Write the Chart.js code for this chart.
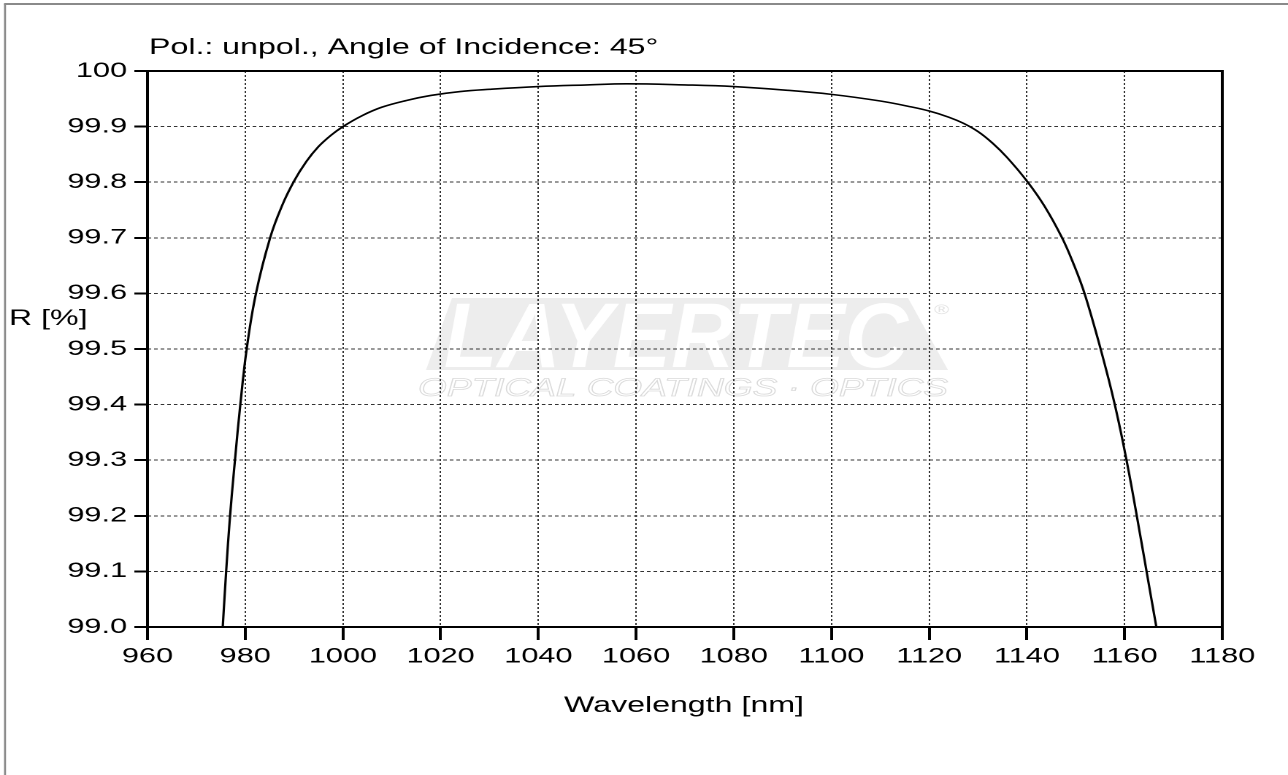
<!DOCTYPE html>
<html>
<head>
<meta charset="utf-8">
<script src="https://cdn.jsdelivr.net/npm/chart.js@4.4.1/dist/chart.umd.min.js"></script>
<style>
  html, body { margin: 0; padding: 0; background: #fff; overflow: hidden; }
  #wrap { width: 1288px; height: 775px; position: relative; }
  #chartR { position: absolute; left: 0; top: 0; transform-origin: 0 0; transform: scaleX(1.4603); }
</style>
</head>
<body>
<div id="wrap"><canvas id="chartR" width="882" height="775"></canvas></div>
<script>
// the original picture is stretched sideways, so the canvas is drawn narrow and widened by css
const stretch = 1288 / 882
const fontFam = '"Liberation Sans", Arial, sans-serif'

const wavelength = [
  975.4, 976.1, 976.9, 977.9, 979.0, 980.3, 982.2, 985.1, 987.5, 990,
  992.5, 995, 997.5, 1000, 1004, 1008, 1013, 1018, 1024, 1030,
  1040, 1050, 1058, 1070, 1080, 1090, 1100, 1110, 1116, 1120,
  1124, 1127, 1130, 1133, 1136, 1140.2, 1143.6, 1147.2, 1149.6, 1151.8,
  1155.1, 1158.0, 1160.4, 1162.5, 1164.5, 1166.5
]
const reflectance = [
  99.0, 99.1, 99.2, 99.3, 99.4, 99.5, 99.6, 99.7, 99.757, 99.802,
  99.837, 99.864, 99.884, 99.9, 99.92, 99.935, 99.947, 99.956, 99.963, 99.967,
  99.972, 99.975, 99.977, 99.975, 99.972, 99.966, 99.958, 99.946, 99.936, 99.928,
  99.917, 99.906, 99.891, 99.87, 99.844, 99.8, 99.757, 99.7, 99.652, 99.6,
  99.5, 99.4, 99.3, 99.2, 99.1, 99.0
]

const xTickValues = [960, 980, 1000, 1020, 1040, 1060, 1080, 1100, 1120, 1140, 1160, 1180]
const xTickLabels = ['960', '980', '1000', '1020', '1040', '1060', '1080', '1100', '1120', '1140', '1160', '1180']
const yTickValues = [99.0, 99.1, 99.2, 99.3, 99.4, 99.5, 99.6, 99.7, 99.8, 99.9, 100]
const yTickLabels = ['99.0', '99.1', '99.2', '99.3', '99.4', '99.5', '99.6', '99.7', '99.8', '99.9', '100']

const titleText = 'Pol.: unpol., Angle of Incidence: 45°'
const yTitle = 'R [%]'
const xTitle = 'Wavelength [nm]'

const points = wavelength.map((w, i) => ({ x: w, y: reflectance[i] }))

const paperPlugin = {
  id: 'paper',
  beforeDraw(chart) {
    const c = chart.ctx
    const sx = v => v / stretch
    c.save()
    // outer grey frame
    c.strokeStyle = '#8a8a8a'
    c.lineWidth = 1.4
    c.beginPath(); c.moveTo(sx(5), 775); c.lineTo(sx(5), 4); c.stroke()
    c.lineWidth = 2
    c.beginPath(); c.moveTo(sx(4), 4); c.lineTo(882, 4); c.stroke()

    // watermark
    c.fillStyle = '#ededed'
    c.beginPath()
    c.moveTo(sx(452), 298); c.lineTo(sx(908), 298); c.lineTo(sx(948), 370); c.lineTo(sx(426), 370)
    c.closePath(); c.fill()

    c.font = 'italic bold 92px ' + fontFam
    c.fillStyle = '#fff'
    c.textBaseline = 'alphabetic'
    let w = c.measureText('LAYERTEC').width
    c.save()
    c.translate(sx(444), 367)
    c.scale(sx(908 - 444) / w, 1)
    c.fillText('LAYERTEC', 0, 0)
    c.restore()

    c.font = '14px ' + fontFam
    c.fillStyle = '#e2e2e2'
    c.fillText('®', sx(934), 314)

    c.font = 'italic 25px ' + fontFam
    c.strokeStyle = '#dadada'
    c.lineWidth = 0.8
    w = c.measureText('OPTICAL COATINGS · OPTICS').width
    c.save()
    c.translate(sx(418), 396)
    c.scale(sx(948 - 418) / w, 1)
    c.strokeText('OPTICAL COATINGS · OPTICS', 0, 0)
    c.restore()
    c.restore()
  },
  afterDraw(chart) {
    const c = chart.ctx
    const a = chart.chartArea
    const sx = v => v / stretch
    c.save()
    c.strokeStyle = '#000'
    c.lineWidth = 2
    c.strokeRect(a.left, a.top, a.right - a.left, a.bottom - a.top)

    c.fillStyle = '#000'
    c.font = '22px ' + fontFam
    c.textBaseline = 'alphabetic'
    c.textAlign = 'left'
    c.fillText(titleText, sx(149), 54)
    c.fillText(yTitle, sx(9), 325)
    c.textAlign = 'center'
    c.fillText(xTitle, sx(684), 712)
    c.restore()
  }
}

const ctx = document.getElementById('chartR').getContext('2d')

const chartR = new Chart(ctx, {
  type: 'line',
  data: {
    datasets: [
      {
        label: 'R',
        data: points,
        borderColor: '#000',
        borderWidth: 1.6,
        pointRadius: 0,
        fill: false,
        tension: 0.4
      }
    ]
  },
  options: {
    responsive: false,
    animation: false,
    devicePixelRatio: 2,
    layout: {
      padding: { top: 71, right: 45, left: 0, bottom: 0 }
    },
    scales: {
      x: {
        type: 'linear',
        min: 960,
        max: 1180,
        afterFit: (s) => { s.height = 148 },
        afterBuildTicks: (s) => { s.ticks = xTickValues.map(v => ({ value: v })) },
        border: { display: false, dash: [2, 2] },
        grid: {
          color: '#333',
          lineWidth: 1,
          tickColor: '#000',
          tickWidth: 2,
          tickLength: 13,
          tickBorderDash: []
        },
        ticks: {
          color: '#000',
          font: { family: fontFam, size: 21 },
          padding: 4,
          maxRotation: 0,
          autoSkip: false,
          callback: (v, i) => xTickLabels[i]
        }
      },
      y: {
        type: 'linear',
        min: 99,
        max: 100,
        afterFit: (s) => { s.width = 101 },
        afterBuildTicks: (s) => { s.ticks = yTickValues.map(v => ({ value: v })) },
        border: { display: false, dash: [2.5, 2] },
        grid: {
          color: '#333',
          lineWidth: 1,
          tickColor: '#000',
          tickWidth: 2,
          tickLength: 9,
          tickBorderDash: []
        },
        ticks: {
          color: '#000',
          font: { family: fontFam, size: 21 },
          padding: 5,
          autoSkip: false,
          callback: (v, i) => yTickLabels[i]
        }
      }
    },
    plugins: {
      legend: { display: false },
      tooltip: { enabled: false },
      title: { display: false }
    }
  },
  plugins: [paperPlugin]
})
</script>
</body>
</html>
